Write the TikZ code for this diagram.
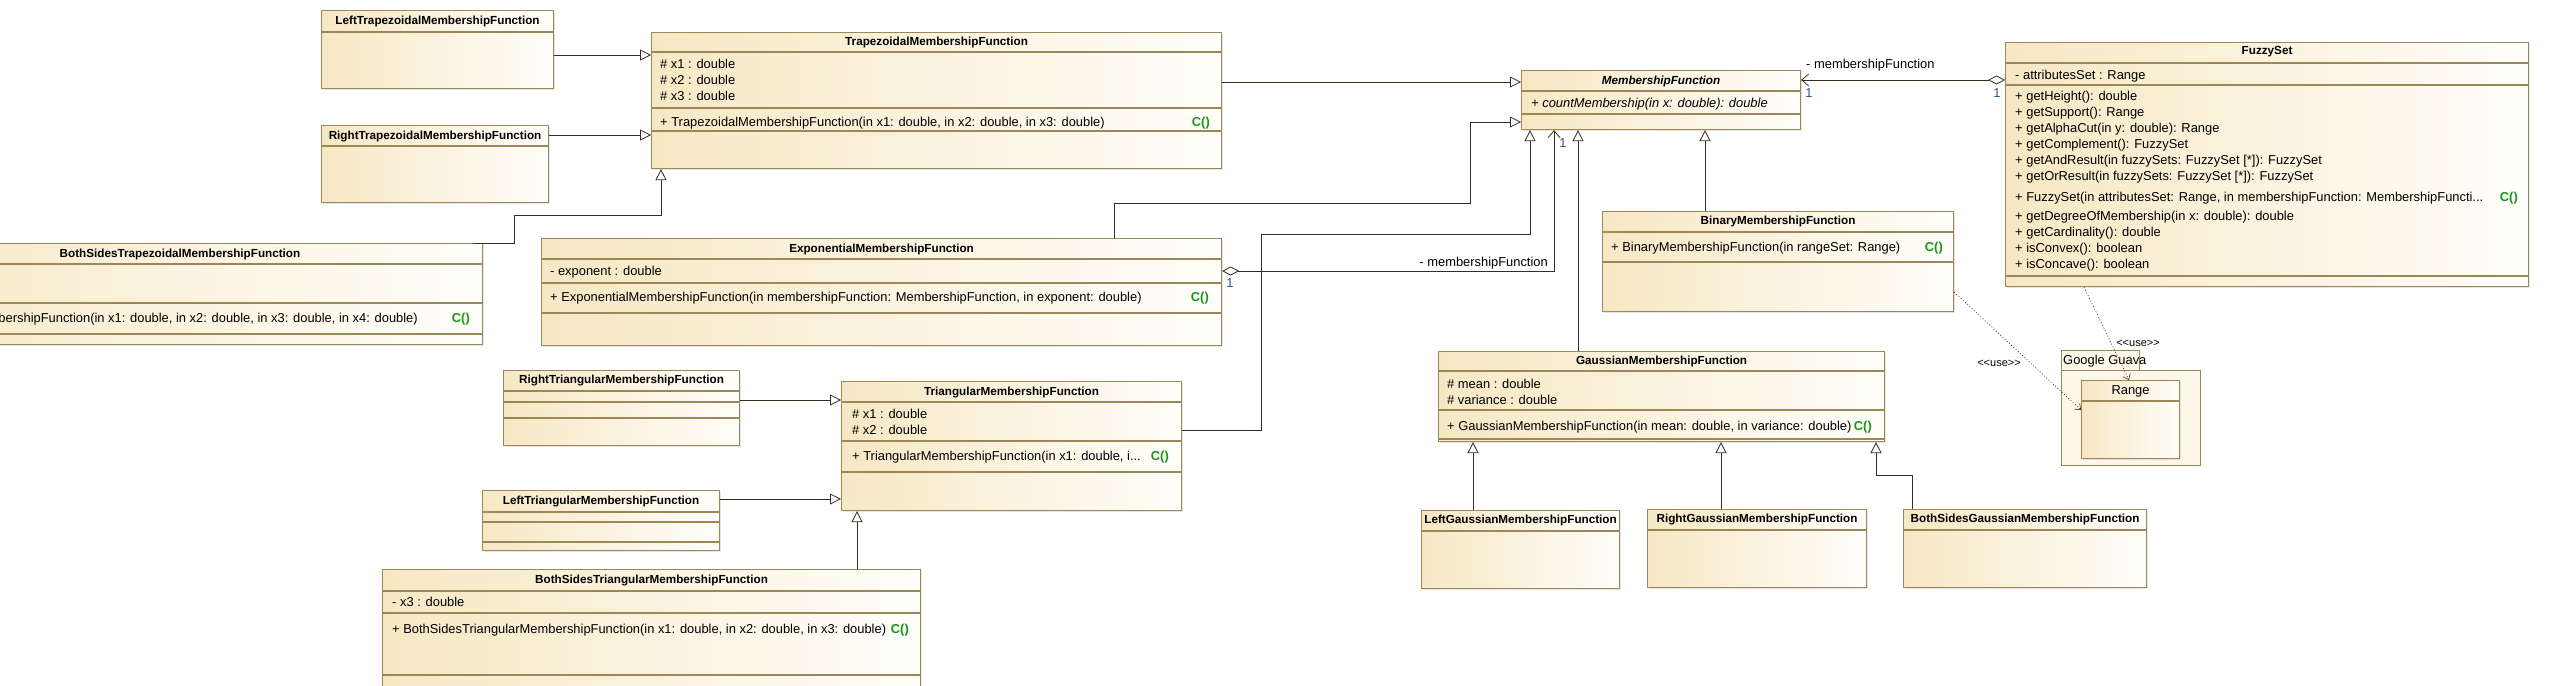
\documentclass[tikz,border=0pt]{standalone}
\usepackage{fontspec}
\setmainfont{Liberation Sans}
\usetikzlibrary{arrows.meta,shadows}
\definecolor{classtan}{RGB}{247,232,196}
\definecolor{classpaper}{RGB}{255,254,250}
\definecolor{rim}{RGB}{155,135,88}
\definecolor{wire}{RGB}{55,45,30}
\definecolor{ctorgreen}{RGB}{25,150,25}
\definecolor{multblue}{RGB}{45,85,150}
\newcommand\titlefont{\fontsize{11.7}{14}\selectfont\bfseries}
\newcommand\bodyfont{\fontsize{12.9}{16}\selectfont}
\tikzset{
  cls/.style={draw=rim,line width=1.1pt,left color=classtan,right color=classpaper,
    inner sep=0pt,anchor=north west,
    drop shadow={shadow xshift=1.5pt,shadow yshift=-1.5pt,opacity=0.2}},
  pkg/.style={draw=rim,line width=1.1pt,fill=classpaper!70!classtan,inner sep=0pt,anchor=north west},
  divider/.style={draw=rim,line width=1.1pt},
  ttl/.style={font=\titlefont,inner sep=0pt},
  txt/.style={font=\bodyfont,anchor=west,align=left,inner sep=0pt},
  ctor/.style={font=\bodyfont\bfseries,text=ctorgreen,anchor=east,inner sep=0pt},
  lbl/.style={font=\bodyfont,inner sep=0pt},
  mult/.style={font=\bodyfont,text=multblue,inner sep=0pt},
  inh/.style={draw=wire,line width=0.8pt,-{Triangle[open,length=11pt,width=11pt]}},
  assoc/.style={draw=wire,line width=0.8pt,{Diamond[open,length=17pt,width=9pt]}-{Straight Barb[length=7pt,width=12pt]}},
  usage/.style={draw=wire,line width=0.6pt,dash pattern=on 1pt off 2pt,-{Straight Barb[length=5pt,width=8pt]}},
}

\begin{document}
\begin{tikzpicture}[x=1pt,y=-1pt]
  \path[use as bounding box] (0,0) rectangle (2555,685);
  \clip (0,0) rectangle (2555,685);
  \fill[white] (0,0) rectangle (2555,685);

  % classes
  \node[cls,minimum width=232,minimum height=78] (lefttrap) at (321,10) {};
  \node[cls,minimum width=227,minimum height=77] (righttrap) at (321,125) {};
  \node[cls,minimum width=570,minimum height=136] (trap) at (651,32) {};
  \node[cls,minimum width=604,minimum height=101] (bstrap) at (-122,243) {};
  \node[cls,minimum width=680,minimum height=107] (expo) at (541,238) {};
  \node[cls,minimum width=279,minimum height=59] (mf) at (1521,70) {};
  \node[cls,minimum width=523,minimum height=244] (fuzzy) at (2005,42) {};
  \node[cls,minimum width=351,minimum height=100] (binary) at (1602,211) {};
  \node[cls,minimum width=446,minimum height=90] (gauss) at (1438,351) {};
  \node[pkg,minimum width=78,minimum height=20] (guavatab) at (2061,350) {};
  \node[pkg,minimum width=139,minimum height=95] (guava) at (2061,370) {};
  \node[cls,minimum width=98,minimum height=78] (range) at (2081,380) {};
  \node[cls,minimum width=236,minimum height=75] (righttri) at (503,370) {};
  \node[cls,minimum width=340,minimum height=129] (tri) at (841,381) {};
  \node[cls,minimum width=237,minimum height=60] (lefttri) at (482,490) {};
  \node[cls,minimum width=538,minimum height=140] (bstri) at (382,569) {};
  \node[cls,minimum width=198,minimum height=78] (leftgauss) at (1421,510) {};
  \node[cls,minimum width=219,minimum height=78] (rightgauss) at (1647,509) {};
  \node[cls,minimum width=243,minimum height=78] (bsgauss) at (1903,509) {};

  \foreach \b/\y in {lefttrap/32,righttrap/146,trap/52,trap/108,trap/131,
      bstrap/264,bstrap/303,bstrap/334,expo/259,expo/283,expo/313,mf/91,mf/114,
      fuzzy/63,fuzzy/85,fuzzy/276,binary/232,binary/262,gauss/371,gauss/410,gauss/439,
      range/401,righttri/391,righttri/402,righttri/418,tri/402,tri/441,tri/472,
      lefttri/512,lefttri/522,lefttri/542,bstri/591,bstri/613,bstri/675,
      leftgauss/531,rightgauss/530,bsgauss/530}
    \draw[divider] (\b.west |- 0,\y) -- (\b.east |- 0,\y);

  % texts
  \node[ttl] (lefttrapT) at (lefttrap.north |- 0,21) {LeftTrapezoidalMembershipFunction};
  \node[ttl] (righttrapT) at (righttrap.north |- 0,136) {RightTrapezoidalMembershipFunction};
  \node[ttl] (trapT) at (trap.north |- 0,42) {TrapezoidalMembershipFunction};
  \node[txt] (trapA) at (660,80) {\# x1 : double\\\# x2 : double\\\# x3 : double};
  \node[txt] (trapO) at (660,123) {+ TrapezoidalMembershipFunction(in x1: double, in x2: double, in x3: double)};
  \node[ctor] (trapC) at (1210,123) {C()};
  \node[ttl] (bstrapT) at (180,254) {BothSidesTrapezoidalMembershipFunction};
  \node[txt,anchor=east] (bstrapO) at (418,319) {+ BothSidesTrapezoidalMembershipFunction(in x1: double, in x2: double, in x3: double, in x4: double)};
  \node[ctor] (bstrapC) at (470,319) {C()};
  \node[ttl] (expoT) at (expo.north |- 0,249) {ExponentialMembershipFunction};
  \node[txt] (expoA) at (550,272) {- exponent : double};
  \node[txt] (expoO) at (550,298) {+ ExponentialMembershipFunction(in membershipFunction: MembershipFunction, in exponent: double)};
  \node[ctor] (expoC) at (1209,298) {C()};
  \node[ttl,font=\titlefont\itshape] (mfT) at (mf.north |- 0,81) {MembershipFunction};
  \node[txt,font=\bodyfont\itshape] (mfO) at (1531,104) {+ countMembership(in x: double): double};
  \node[ttl] (fuzzyT) at (fuzzy.north |- 0,52) {FuzzySet};
  \node[txt] (fuzzyA) at (2015,76) {- attributesSet : Range};
  \node[txt] (fuzzyO) at (2015,137.5) {+ getHeight(): double\\+ getSupport(): Range\\+ getAlphaCut(in y: double): Range\\
    + getComplement(): FuzzySet\\+ getAndResult(in fuzzySets: FuzzySet [*]): FuzzySet\\+ getOrResult(in fuzzySets: FuzzySet [*]): FuzzySet};
  \node[txt] (fuzzyK) at (2015,198) {+ FuzzySet(in attributesSet: Range, in membershipFunction: MembershipFuncti...};
  \node[ctor] (fuzzyC) at (2518,198) {C()};
  \node[txt] (fuzzyP) at (2015,241.5) {+ getDegreeOfMembership(in x: double): double\\+ getCardinality(): double\\
    + isConvex(): boolean\\+ isConcave(): boolean};
  \node[ttl] (binaryT) at (binary.north |- 0,221) {BinaryMembershipFunction};
  \node[txt] (binaryO) at (1611,248) {+ BinaryMembershipFunction(in rangeSet: Range)};
  \node[ctor] (binaryC) at (1943,248) {C()};
  \node[ttl] (gaussT) at (gauss.north |- 0,361) {GaussianMembershipFunction};
  \node[txt] (gaussA) at (1447,392) {\# mean : double\\\# variance : double};
  \node[txt] (gaussO) at (1447,427) {+ GaussianMembershipFunction(in mean: double, in variance: double)};
  \node[ctor] (gaussC) at (1872,427) {C()};
  \node[txt] (guavaT) at (2063,361) {Google Guava};
  \node[lbl] (rangeT) at (range.north |- 0,391) {Range};
  \node[ttl] (righttriT) at (righttri.north |- 0,380) {RightTriangularMembershipFunction};
  \node[ttl] (triT) at (tri.north |- 0,392) {TriangularMembershipFunction};
  \node[txt] (triA) at (852,422) {\# x1 : double\\\# x2 : double};
  \node[txt] (triO) at (852,457) {+ TriangularMembershipFunction(in x1: double, i...};
  \node[ctor] (triC) at (1169,457) {C()};
  \node[ttl] (lefttriT) at (lefttri.north |- 0,501) {LeftTriangularMembershipFunction};
  \node[ttl] (bstriT) at (bstri.north |- 0,580) {BothSidesTriangularMembershipFunction};
  \node[txt] (bstriA) at (392,602) {- x3 : double};
  \node[txt] (bstriO) at (392,630) {+ BothSidesTriangularMembershipFunction(in x1: double, in x2: double, in x3: double)};
  \node[ctor] (bstriC) at (909,630) {C()};
  \node[ttl] (leftgaussT) at (leftgauss.north |- 0,520) {LeftGaussianMembershipFunction};
  \node[ttl] (rightgaussT) at (rightgauss.north |- 0,519.5) {RightGaussianMembershipFunction};
  \node[ttl] (bsgaussT) at (bsgauss.north |- 0,519.5) {BothSidesGaussianMembershipFunction};

  % generalizations
  \draw[inh] (lefttrap.east |- 0,55) -- (trap.west |- 0,55);
  \draw[inh] (righttrap.east |- 0,135) -- (trap.west |- 0,135);
  \draw[inh] (bstrap.north -| 473,0) -- (514,243) |- (661,215) -- (trap.south -| 661,0);
  \draw[inh] (trap.east |- 0,82) -- (mf.west |- 0,82);
  \draw[inh] (expo.north -| 1114,0) |- (1470,203) |- (mf.west |- 0,122);
  \draw[inh] (tri.east |- 0,430) -| (1261,234) -| (mf.south -| 1530,0);
  \draw[inh] (gauss.north -| 1578,0) -- (mf.south -| 1578,0);
  \draw[inh] (binary.north -| 1705,0) -- (mf.south -| 1705,0);
  \draw[inh] (righttri.east |- 0,400) -- (tri.west |- 0,400);
  \draw[inh] (lefttri.east |- 0,499) -- (tri.west |- 0,499);
  \draw[inh] (bstri.north -| 857,0) -- (tri.south -| 857,0);
  \draw[inh] (leftgauss.north -| 1473,0) -- (gauss.south -| 1473,0);
  \draw[inh] (rightgauss.north -| 1721,0) -- (gauss.south -| 1721,0);
  \draw[inh] (bsgauss.north -| 1912,0) |- (1876,475) -- (gauss.south -| 1876,0);

  % associations and dependencies
  \draw[assoc] (expo.east |- 0,271) -| (mf.south -| 1554,0);
  \node[lbl,anchor=east] (expoL) at (1548,263) {- membershipFunction};
  \node[mult] (expoM) at (1230,283) {1};
  \node[mult] (mfM) at (1563,143) {1};
  \draw[assoc] (fuzzy.west |- 0,80) -- (mf.east |- 0,80);
  \node[lbl,anchor=west] (fuzzyL) at (1806,65) {- membershipFunction};
  \node[mult] (mfN) at (1809,93) {1};
  \node[mult] (fuzzyM) at (1997,93) {1};
  \draw[usage] (binary.east |- 0,292) -- (range.west |- 0,410);
  \node[lbl,font=\fontsize{11}{13}\selectfont] (binaryU) at (1999,363) {<{}<use>{}>};
  \draw[usage] (fuzzy.south -| 2084,0) -- (range.north -| 2129,0);
  \node[lbl,font=\fontsize{11}{13}\selectfont] (fuzzyU) at (2138,343) {<{}<use>{}>};
\end{tikzpicture}
\end{document}
